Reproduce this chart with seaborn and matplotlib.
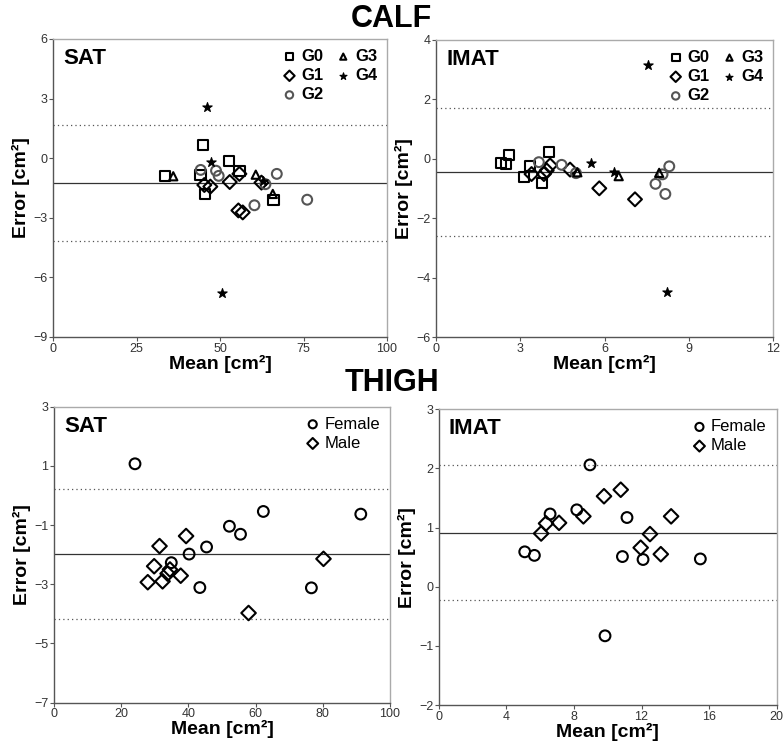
import numpy as np
import pandas as pd
import seaborn as sns
import matplotlib.pyplot as plt

sns.set_style("white")
plt.rcParams['font.family'] = ['Liberation Sans', 'DejaVu Sans']
plt.rcParams['text.color'] = 'black'
plt.rcParams['axes.labelcolor'] = 'black'

# ---- CALF SAT (mean, error) per group
calf_sat = {
    'G0': ([33.6, 44.8, 44.2, 45.5, 52.6, 55.8, 66.0],
           [-0.91, 0.67, -0.84, -1.82, -0.14, -0.66, -2.10]),
    'G1': ([45.3, 47.1, 52.9, 55.8, 55.5, 56.8, 62.4],
           [-1.35, -1.43, -1.20, -0.79, -2.63, -2.73, -1.23]),
    'G2': ([44.2, 48.8, 49.6, 63.6, 60.3, 67.0, 76.1],
           [-0.59, -0.63, -0.89, -1.31, -2.37, -0.79, -2.09]),
    'G3': ([36.0, 60.7, 65.8],
           [-0.91, -0.83, -1.80]),
    'G4': ([46.0, 47.2, 50.5, 62.9],
           [2.57, -0.20, -6.81, -1.15]),
}
calf_sat_lines = (-1.25, 1.69, -4.18)

# ---- CALF IMAT
calf_imat = {
    'G0': ([2.31, 2.49, 2.61, 3.34, 3.14, 3.76, 4.02],
           [-0.13, -0.17, 0.13, -0.25, -0.62, -0.82, 0.22]),
    'G1': ([3.40, 3.84, 3.94, 4.06, 4.77, 5.81, 7.08],
           [-0.51, -0.51, -0.39, -0.22, -0.36, -0.99, -1.36]),
    'G2': ([3.66, 4.47, 4.98, 7.81, 8.06, 8.30, 8.16],
           [-0.11, -0.20, -0.48, -0.84, -0.52, -0.25, -1.18]),
    'G3': ([5.03, 6.50, 7.94],
           [-0.45, -0.58, -0.47]),
    'G4': ([7.55, 5.53, 6.34, 8.21],
           [3.16, -0.13, -0.45, -4.48]),
}
calf_imat_lines = (-0.45, 1.70, -2.59)

# ---- THIGH SAT
thigh_sat = {
    'Female': ([24.1, 62.3, 91.3, 52.2, 55.5, 45.4, 40.2, 34.9, 43.4, 76.6],
               [1.07, -0.54, -0.63, -1.04, -1.31, -1.74, -1.98, -2.27, -3.11, -3.12]),
    'Male': ([31.4, 39.3, 29.8, 27.9, 32.3, 33.8, 34.5, 37.7, 57.9, 80.2],
             [-1.71, -1.37, -2.39, -2.93, -2.90, -2.64, -2.50, -2.71, -3.97, -2.14]),
}
thigh_sat_lines = (-1.99, 0.21, -4.18)

# ---- THIGH IMAT
thigh_imat = {
    'Female': ([5.09, 5.66, 6.59, 8.17, 8.95, 9.84, 10.87, 11.14, 12.09, 15.48],
               [0.59, 0.53, 1.23, 1.30, 2.06, -0.83, 0.51, 1.17, 0.46, 0.47]),
    'Male': ([6.06, 6.35, 7.12, 8.56, 9.78, 10.77, 11.95, 12.50, 13.14, 13.75],
             [0.90, 1.07, 1.08, 1.19, 1.53, 1.64, 0.66, 0.89, 0.55, 1.19]),
}
thigh_imat_lines = (0.91, 2.06, -0.22)

group_style = {
    'G0': dict(marker='s', color='black', s=55),
    'G1': dict(marker='D', color='black', s=50),
    'G2': dict(marker='o', color='#555555', s=50),
    'G3': dict(marker='^', color='black', s=35),
    'G4': dict(marker='*', color='black', s=50),
    'Female': dict(marker='o', color='black', s=60),
    'Male': dict(marker='D', color='black', s=55),
}


def draw_panel(ax, groups, lines, title, xlim, xticks, ylim, yticks, legend_bold, ncol):
    for name, (xs, ys) in groups.items():
        st = group_style[name]
        df = pd.DataFrame({'x': xs, 'y': ys})
        filled = st['marker'] == '*'
        sns.scatterplot(data=df, x='x', y='y', ax=ax, marker=st['marker'], s=st['s'],
                        facecolor=st['color'] if filled else 'none',
                        edgecolor=st['color'], linewidth=0.8 if filled else 1.5,
                        label=name, legend=False, zorder=3)
    mean, up, lo = lines
    ax.axhline(mean, color='#333333', lw=0.9, zorder=1)
    ax.axhline(up, color='#555555', lw=0.9, ls=(0, (1, 2.5)), zorder=1)
    ax.axhline(lo, color='#555555', lw=0.9, ls=(0, (1, 2.5)), zorder=1)
    ax.set_xlim(*xlim)
    ax.set_ylim(*ylim)
    ax.set_xticks(xticks)
    ax.set_yticks(yticks)
    ax.tick_params(axis='both', labelsize=9, labelcolor='#333333', length=3,
                   width=0.8, color='#555555', pad=1, bottom=True, left=True)
    for side in ['left', 'bottom']:
        ax.spines[side].set_color('#555555')
    for side in ['top', 'right']:
        ax.spines[side].set_color('#aaaaaa')
    for sp in ax.spines.values():
        sp.set_linewidth(1.0)
    ax.set_xlabel('Mean [cm²]', fontsize=14, fontweight='bold', labelpad=0)
    ax.set_ylabel('Error [cm²]', fontsize=14, fontweight='bold', labelpad=2)
    ax.text(0.03, 0.97, title, transform=ax.transAxes, ha='left', va='top',
            fontsize=16, fontweight='bold')
    leg = ax.legend(loc='upper right', ncol=ncol, frameon=False, fontsize=12,
                    handletextpad=0.1, columnspacing=0.6, labelspacing=0.25,
                    borderaxespad=0.2, markerscale=0.75, handlelength=1.2)
    for t in leg.get_texts():
        if legend_bold:
            t.set_fontweight('bold')


fig = plt.figure(figsize=(7.83, 7.47), dpi=100)
ax1 = fig.add_axes([0.0677, 0.5489, 0.4266, 0.3989])
ax2 = fig.add_axes([0.5568, 0.5485, 0.4308, 0.3980])
ax3 = fig.add_axes([0.0690, 0.0593, 0.4291, 0.3963])
ax4 = fig.add_axes([0.5603, 0.0562, 0.4317, 0.3959])

draw_panel(ax1, calf_sat, calf_sat_lines, 'SAT', (0, 100), [0, 25, 50, 75, 100],
           (-9, 6), [-9, -6, -3, 0, 3, 6], True, 2)
draw_panel(ax2, calf_imat, calf_imat_lines, 'IMAT', (0, 12), [0, 3, 6, 9, 12],
           (-6, 4), [-6, -4, -2, 0, 2, 4], True, 2)
draw_panel(ax3, thigh_sat, thigh_sat_lines, 'SAT', (0, 100), [0, 20, 40, 60, 80, 100],
           (-7, 3), [-7, -5, -3, -1, 1, 3], False, 1)
draw_panel(ax4, thigh_imat, thigh_imat_lines, 'IMAT', (0, 20), [0, 4, 8, 12, 16, 20],
           (-2, 3), [-2, -1, 0, 1, 2, 3], False, 1)

fig.text(0.5, 0.975, 'CALF', ha='center', va='center', fontsize=22, fontweight='bold')
fig.text(0.5, 0.487, 'THIGH', ha='center', va='center', fontsize=22, fontweight='bold')

fig.savefig('out.png', dpi=100)
